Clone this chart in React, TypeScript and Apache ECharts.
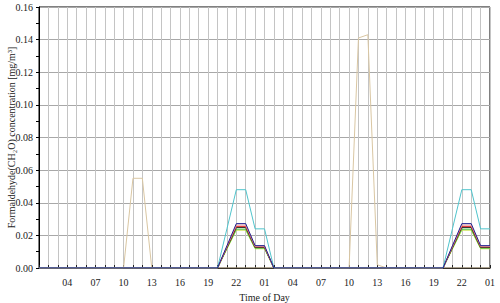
import React, { useEffect, useRef } from "react";
import * as echarts from "echarts";

// hourly categories, from 01:00 day 1 to 01:00 day 3
const hours: string[] = [
  "01","02","03","04","05","06","07","08","09","10","11","12",
  "13","14","15","16","17","18","19","20","21","22","23","00",
  "01","02","03","04","05","06","07","08","09","10","11","12",
  "13","14","15","16","17","18","19","20","21","22","23","00","01",
];

const yTicks = { min: 0, max: 0.16, interval: 0.02 };

const tan: number[] = [
  0,0,0,0,0,0,0,0,0,0,0.055,0.055,
  0,0,0,0,0,0,0,0,0,0,0,0,
  0,0,0,0,0,0,0,0,0,0,0.141,0.143,
  0.002,0,0,0,0,0,0,0,0,0,0,0,0,
];
const yellowGreen: number[] = [
  0,0,0,0,0,0,0,0,0,0,0,0,
  0,0,0,0,0,0,0,0,0.0116,0.0232,0.0232,0.0118,
  0.0118,0,0,0,0,0,0,0,0,0,0,0,
  0,0,0,0,0,0,0,0,0.0116,0.0232,0.0232,0.0118,0.0118,
];
const green: number[] = [
  0,0,0,0,0,0,0,0,0,0,0,0,
  0,0,0,0,0,0,0,0,0.012,0.0238,0.0238,0.0122,
  0.0122,0,0,0,0,0,0,0,0,0,0,0,
  0,0,0,0,0,0,0,0,0.012,0.0238,0.0238,0.0122,0.0122,
];
const black: number[] = [
  0,0,0,0,0,0,0,0,0,0,0,0,
  0,0,0,0,0,0,0,0,0.0124,0.0248,0.0248,0.0126,
  0.0126,0,0,0,0,0,0,0,0,0,0,0,
  0,0,0,0,0,0,0,0,0.0124,0.0248,0.0248,0.0126,0.0126,
];
const red: number[] = [
  0,0,0,0,0,0,0,0,0,0,0,0,
  0,0,0,0,0,0,0,0,0.0128,0.0255,0.0255,0.013,
  0.013,0,0,0,0,0,0,0,0,0,0,0,
  0,0,0,0,0,0,0,0,0.0128,0.0255,0.0255,0.013,0.013,
];
const pink: number[] = [
  0,0,0,0,0,0,0,0,0,0,0,0,
  0,0,0,0,0,0,0,0,0.0132,0.0263,0.0263,0.0133,
  0.0133,0,0,0,0,0,0,0,0,0,0,0,
  0,0,0,0,0,0,0,0,0.0132,0.0263,0.0263,0.0133,0.0133,
];
const cyan: number[] = [
  0,0,0,0,0,0,0,0,0,0,0,0,
  0,0,0,0,0,0,0,0,0.024,0.048,0.048,0.024,
  0.024,0,0,0,0,0,0,0,0,0,0,0,
  0,0,0,0,0,0,0,0,0.024,0.048,0.048,0.024,0.024,
];
const navy: number[] = [
  0,0,0,0,0,0,0,0,0,0,0,0,
  0,0,0,0,0,0,0,0,0.0136,0.0272,0.0272,0.0137,
  0.0137,0,0,0,0,0,0,0,0,0,0,0,
  0,0,0,0,0,0,0,0,0.0136,0.0272,0.0272,0.0137,0.0137,
];

const seriesDefs: { name: string; data: number[]; color: string }[] = [
  { name: "tan", data: tan, color: "#d9c6a2" },
  { name: "yellowGreen", data: yellowGreen, color: "#c8e040" },
  { name: "green", data: green, color: "#3cbf3c" },
  { name: "black", data: black, color: "#303030" },
  { name: "red", data: red, color: "#e02828" },
  { name: "pink", data: pink, color: "#e89a9a" },
  { name: "cyan", data: cyan, color: "#4fc4cc" },
  { name: "navy", data: navy, color: "#1e1e90" },
];

const font = "'Liberation Serif', 'DejaVu Serif', 'Times New Roman', serif";

export default function App() {
  const ref = useRef<HTMLDivElement>(null);
  useEffect(() => {
    if (!ref.current) return;
    const chart = echarts.init(ref.current, undefined, { renderer: "svg" });
    chart.setOption({
      animation: false,
      grid: {
        left: 39,
        right: 10,
        top: 7,
        bottom: 35,
        containLabel: false,
        outerBoundsMode: "none",
        show: true,
        borderColor: "#000",
        borderWidth: 1,
        backgroundColor: "transparent",
      },
      xAxis: {
        type: "category",
        data: hours,
        boundaryGap: false,
        name: "Time of Day",
        nameLocation: "middle",
        nameGap: 24,
        nameMoveOverlap: false,
        nameTextStyle: { fontFamily: font, fontSize: 10, color: "#222" },
        axisLine: { lineStyle: { color: "#000", width: 1 } },
        axisTick: { show: true, interval: 0, inside: true, length: 3, lineStyle: { color: "#222" } },
        axisLabel: {
          interval: (i: number) => i % 3 === 0 && i !== 0,
          fontFamily: font,
          fontSize: 10,
          color: "#222",
          margin: 9,
        },
        splitLine: { show: true, interval: 0, lineStyle: { color: "#c4c4c4", width: 1 } },
      },
      yAxis: {
        type: "value",
        min: yTicks.min,
        max: yTicks.max,
        interval: yTicks.interval,
        name: "Formaldehyde(CH\u2082O) concentration [mg/m\u00b3]",
        nameLocation: "middle",
        nameGap: 23,
        nameMoveOverlap: false,
        nameTextStyle: { fontFamily: font, fontSize: 10, color: "#222" },
        axisLine: { show: true, lineStyle: { color: "#000", width: 1 } },
        axisTick: { show: true, length: 3, lineStyle: { color: "#000" } },
        minorTick: { show: true, splitNumber: 2, length: 3, lineStyle: { color: "#000" } },
        axisLabel: {
          formatter: (v: number) => v.toFixed(2),
          fontFamily: font,
          fontSize: 10,
          color: "#222",
          margin: 6,
        },
        splitLine: { show: true, lineStyle: { color: "#a8a8a8", width: 1 } },
      },
      series: seriesDefs.map((s) => ({
        name: s.name,
        type: "line",
        data: s.data,
        showSymbol: false,
        symbol: "none",
        lineStyle: { color: s.color, width: 1 },
        itemStyle: { color: s.color },
      })),
    });
    return () => chart.dispose();
  }, []);
  return (
    <div
      ref={ref}
      style={{ position: "absolute", left: 0, top: 0, width: 500, height: 303 }}
    />
  );
}
